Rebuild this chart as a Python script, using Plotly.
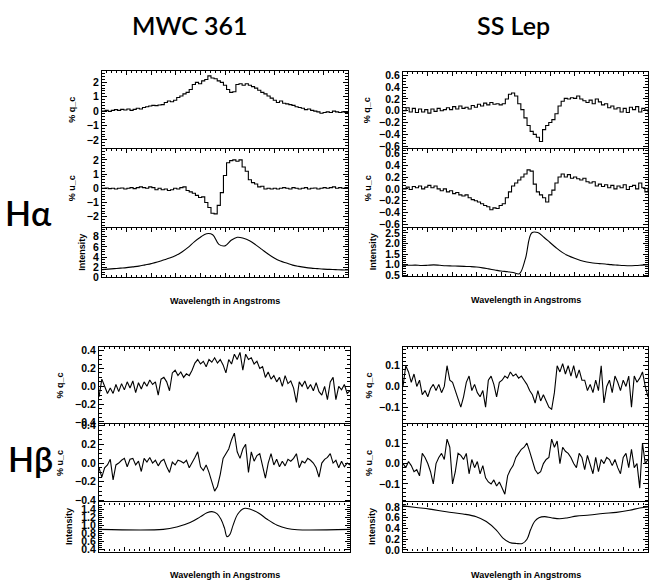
import numpy as np
import plotly.graph_objects as go

# ---------------- data ----------------
HA_RANGE = [6530.0, 6600.0]   # H-alpha window (A)
HB_RANGE = [4830.0, 4890.0]   # H-beta window (A)

MWC_HA_Q = [0.0, 0.05, -0.02, 0.05, 0.1, 0.05, 0.12, 0.08, 0.15, 0.05,
            0.12, 0.2, 0.15, 0.25, 0.3, 0.35, 0.4, 0.38, 0.42, 0.45,
            0.6, 0.7, 0.65, 0.75, 0.95, 1.05, 1.2, 1.3, 1.5, 1.85,
            2.0, 1.9, 2.1, 2.2, 2.45, 2.3, 2.25, 2.1, 2.0, 1.8,
            1.5, 1.3, 1.35, 1.85, 1.9, 1.8, 1.9, 1.8, 1.7, 1.6,
            1.45, 1.3, 1.2, 1.05, 0.9, 0.75, 0.6, 0.7, 0.55, 0.5,
            0.45, 0.4, 0.3, 0.25, 0.2, 0.1, 0.15, 0.05, 0.0, -0.05,
            -0.15, -0.1, -0.05, -0.1, 0.0, -0.05, -0.1, -0.05, -0.1, -0.05]

MWC_HA_U = [0.0, 0.02, -0.02, 0.0, -0.05, 0.0, 0.02, -0.05, 0.0, 0.05,
            -0.02, 0.05, 0.1, 0.05, 0.0, 0.1, 0.05, -0.1, 0.0, -0.1,
            -0.05, -0.15, -0.1, 0.0, -0.05, 0.05, 0.1, -0.15, -0.25, -0.35,
            -0.5, -0.65, -0.6, -1.0, -1.35, -1.75, -1.8, -1.2, -0.3, 0.9,
            1.8, 1.95, 2.0, 1.9, 2.0, 1.5, 1.2, 0.6, 0.4, 0.3,
            0.1, 0.15, -0.05, 0.0, -0.05, 0.0, -0.05, 0.0, 0.05, 0.0,
            -0.05, 0.05, 0.0, -0.05, 0.0, 0.05, -0.05, 0.0, 0.02, -0.05,
            0.0, 0.05, 0.0, 0.05, 0.1, 0.0, 0.05, 0.0, 0.05, 0.0]

MWC_HA_I = [1.5, 1.6, 1.7, 1.8, 1.9, 2.05, 2.2, 2.45, 2.7, 3.0,
            3.4, 3.8, 4.3, 5.0, 5.9, 7.0, 7.9, 8.6, 8.4, 6.5,
            6.2, 7.3, 7.9, 7.7, 7.2, 6.4, 5.5, 4.6, 3.8, 3.2,
            2.8, 2.4, 2.15, 1.95, 1.8, 1.7, 1.6, 1.55, 1.5, 1.45, 1.45]

SSL_HA_Q = [0.0, 0.05, -0.02, 0.04, -0.03, 0.03, -0.02, 0.02, -0.04, 0.03,
            -0.01, 0.04, 0.0, 0.02, 0.05, 0.02, 0.07, 0.03, 0.08, 0.04,
            0.06, 0.03, 0.09, 0.06, 0.11, 0.08, 0.13, 0.1, 0.14, 0.11,
            0.12, 0.1, 0.12, 0.2, 0.28, 0.3, 0.25, 0.12, 0.02, -0.12,
            -0.25, -0.35, -0.4, -0.45, -0.52, -0.32, -0.25, -0.2, -0.15, -0.05,
            0.08, 0.16, 0.21, 0.2, 0.22, 0.21, 0.25, 0.2, 0.17, 0.14,
            0.18, 0.12, 0.2, 0.15, 0.1, 0.12, 0.05, 0.08, 0.03, 0.05,
            -0.02, 0.04, -0.03, 0.06, 0.02, 0.07, -0.02, 0.04, 0.01, -0.03]

SSL_HA_U = [0.0, 0.03, -0.01, 0.04, 0.02, 0.05, 0.0, 0.03, 0.06, 0.02,
            0.05, 0.0, -0.03, 0.0, -0.05, -0.03, -0.08, -0.06, -0.1, -0.12,
            -0.1, -0.15, -0.18, -0.2, -0.22, -0.25, -0.28, -0.3, -0.35, -0.32,
            -0.33, -0.28, -0.25, -0.15, -0.05, 0.05, 0.1, 0.15, 0.2, 0.25,
            0.32, 0.3, 0.08, -0.05, -0.1, -0.15, -0.22, -0.1, -0.02, 0.1,
            0.2, 0.25, 0.2, 0.24, 0.18, 0.2, 0.17, 0.15, 0.18, 0.12,
            0.1, 0.12, 0.05, 0.08, 0.04, 0.07, 0.02, 0.06, 0.0, 0.05,
            0.02, 0.07, -0.01, 0.04, 0.06, 0.0, 0.1, 0.02, -0.05, 0.02]

SSL_HA_I = [0.98, 0.97, 0.98, 0.96, 0.97, 0.99, 0.97, 0.95, 0.94, 0.93,
            0.92, 0.91, 0.89, 0.85, 0.8, 0.75, 0.7, 0.67, 0.63, 0.57,
            1.3, 2.5, 2.52, 2.3, 2.05, 1.8, 1.58, 1.42, 1.3, 1.2,
            1.13, 1.08, 1.05, 1.03, 1.0, 0.98, 0.96, 0.95, 0.96, 0.98, 1.0]

MWC_HB_Q = [-0.12, 0.08, 0.0, -0.08, -0.02, -0.08, 0.02, -0.06, 0.03, -0.04,
            0.05, -0.02, 0.06, -0.07, 0.04, -0.03, 0.05, 0.0, 0.07, 0.02,
            0.05, -0.1, 0.08, 0.1, 0.05, -0.05, 0.15, 0.18, 0.12, 0.16,
            0.1, 0.14, 0.12, 0.18, 0.26, 0.3, 0.25, 0.28, 0.22, 0.3,
            0.27, 0.32, 0.26, 0.3, 0.24, 0.15, 0.3, 0.25, 0.36, 0.3,
            0.38, 0.18, 0.36, 0.3, 0.32, 0.25, 0.28, 0.2, 0.22, 0.1,
            0.16, 0.08, 0.12, 0.05, 0.1, 0.0, 0.12, 0.03, 0.06, -0.02,
            -0.18, 0.05, 0.0, 0.06, -0.03, 0.02, -0.05, 0.04, -0.06, -0.1,
            0.0, -0.15, 0.05, 0.1, -0.15, 0.0, -0.04, 0.02, -0.08, -0.05]

MWC_HB_U = [-0.05, -0.15, -0.05, -0.02, 0.04, -0.18, -0.02, 0.0, 0.03, 0.05,
            -0.04, 0.04, 0.05, -0.02, 0.02, -0.09, 0.05, 0.01, 0.06, 0.0,
            0.03, -0.03, 0.02, 0.04, -0.04, -0.1, 0.01, -0.02, 0.03, 0.02,
            0.0, 0.03, -0.05, 0.0, 0.06, 0.12, -0.04, -0.08, -0.02, -0.1,
            -0.2, -0.3, -0.25, -0.12, 0.05, 0.1, 0.15, 0.25, 0.32, 0.12,
            0.05, 0.15, 0.2, -0.1, 0.12, 0.02, 0.08, 0.1, -0.05, -0.16,
            0.0, 0.1, -0.02, 0.04, -0.04, 0.02, -0.03, 0.04, 0.02, 0.05,
            0.1, -0.05, 0.02, 0.0, 0.05, 0.03, 0.0, -0.05, -0.15, 0.0,
            0.04, 0.06, 0.1, 0.0, 0.03, -0.05, 0.02, -0.04, 0.0, -0.02]

MWC_HB_I_POS = [0.0, 0.256, 0.31, 0.363, 0.403, 0.43, 0.45, 0.47, 0.486, 0.5,
                0.51, 0.521, 0.534, 0.553, 0.577, 0.603, 0.637, 0.67, 0.71, 0.75,
                0.79, 1.0]
MWC_HB_I = [0.9, 0.9, 0.96, 1.07, 1.21, 1.31, 1.34, 1.29, 1.15, 0.93,
            0.72, 0.77, 1.0, 1.28, 1.42, 1.4, 1.3, 1.15, 1.0, 0.92,
            0.89, 0.9]

SSL_HB_Q = [0.0, 0.1, 0.07, 0.02, 0.06, 0.0, 0.03, -0.04, -0.02, -0.05,
            -0.01, 0.01, -0.02, 0.01, -0.03, 0.0, 0.1, 0.03, 0.02, -0.02,
            -0.06, -0.1, -0.05, 0.02, 0.05, -0.02, 0.01, -0.03, -0.05, -0.02,
            -0.1, 0.03, 0.05, 0.01, -0.05, 0.02, 0.03, 0.05, 0.04, 0.07,
            0.05, 0.06, 0.04, 0.05, 0.03, 0.01, -0.02, -0.04, -0.08, -0.02,
            -0.07, -0.04, -0.07, -0.1, -0.11, -0.03, 0.1, 0.07, 0.11, 0.06,
            0.1, 0.05, 0.1, 0.04, 0.08, 0.03, 0.03, -0.02, 0.01, -0.03,
            0.03, -0.02, 0.1, -0.08, 0.0, 0.03, -0.03, 0.05, 0.02, -0.02,
            0.03, 0.0, 0.05, -0.1, 0.05, 0.02, 0.04, 0.07, 0.0, -0.05]

SSL_HB_U = [0.0, -0.02, 0.01, -0.01, -0.04, -0.03, -0.06, 0.05, 0.03, 0.0,
            -0.04, -0.1, 0.0, 0.03, 0.05, 0.02, 0.12, 0.08, -0.1, -0.04,
            0.05, 0.04, 0.02, 0.05, -0.05, 0.02, -0.02, 0.01, -0.05, -0.01,
            -0.07, -0.09, -0.1, -0.08, -0.11, -0.09, -0.12, -0.15, -0.06, -0.03,
            -0.01, 0.03, 0.05, 0.07, 0.08, 0.1, 0.06, 0.02, -0.03, -0.05,
            -0.04, 0.0, 0.02, 0.03, 0.12, 0.08, 0.11, 0.0, 0.08, 0.06,
            0.05, 0.03, 0.0, -0.02, 0.05, 0.03, -0.03, 0.04, 0.0, -0.05,
            0.03, -0.04, 0.02, 0.0, 0.03, 0.02, -0.01, 0.02, -0.02, -0.05,
            0.03, 0.05, -0.02, 0.07, -0.02, 0.0, -0.12, 0.1, 0.0, 0.02]

SSL_HB_I_POS = [0.0, 0.054, 0.109, 0.177, 0.245, 0.299, 0.34, 0.381, 0.408, 0.435,
                0.463, 0.487, 0.506, 0.521, 0.537, 0.555, 0.578, 0.605, 0.639, 0.673,
                0.707, 0.762, 0.816, 0.871, 0.925, 0.966, 1.0]
SSL_HB_I = [0.82, 0.79, 0.76, 0.71, 0.67, 0.62, 0.53, 0.37, 0.22, 0.14,
            0.12, 0.12, 0.2, 0.38, 0.53, 0.6, 0.62, 0.6, 0.58, 0.6,
            0.63, 0.65, 0.68, 0.7, 0.74, 0.78, 0.8]

STAR_NAMES = ["MWC 361", "SS Lep"]
LINE_NAMES = ["Hα", "Hβ"]
Y_TITLES = ["% q_c", "% u_c", "Intensity"]
X_TITLE = "Wavelength in Angstroms"

# ---------------- layout helpers ----------------
W, H = 650, 588


def xd(a, b):
    return [a / W, b / W]


def yd(top, bot):
    return [1 - bot / H, 1 - top / H]


def grid(rng, n):
    return np.linspace(rng[0], rng[1], n)


def knots(rng, pos):
    return rng[0] + (rng[1] - rng[0]) * np.array(pos)


panels = [
    dict(px=(102, 348), rows=(68, 147, 228, 278), wl=HA_RANGE,
         series=[(grid(HA_RANGE, len(MWC_HA_Q)), MWC_HA_Q, "hv"),
                 (grid(HA_RANGE, len(MWC_HA_U)), MWC_HA_U, "hv"),
                 (grid(HA_RANGE, len(MWC_HA_I)), MWC_HA_I, "spline")],
         yr=[[-2.6, 2.8], [-2.8, 2.8], [0.0, 9.7]], dt=[1, 1, 2], mdt=[0.2, 0.2, 0.5],
         fmt=["d", "d", "d"], tx=[72, 72, 82]),
    dict(px=(403, 648), rows=(69, 147, 228, 277), wl=HA_RANGE,
         series=[(grid(HA_RANGE, len(SSL_HA_Q)), SSL_HA_Q, "hv"),
                 (grid(HA_RANGE, len(SSL_HA_U)), SSL_HA_U, "hv"),
                 (grid(HA_RANGE, len(SSL_HA_I)), SSL_HA_I, "spline")],
         yr=[[-0.64, 0.66], [-0.66, 0.68], [0.45, 2.73]], dt=[0.2, 0.2, 0.5],
         mdt=[0.05, 0.05, 0.1], fmt=[".1f", ".1f", ".1f"], tx=[367, 368, 373]),
    dict(px=(99, 350), rows=(349, 427, 507, 557), wl=HB_RANGE,
         series=[(grid(HB_RANGE, len(MWC_HB_Q)), MWC_HB_Q, "linear"),
                 (grid(HB_RANGE, len(MWC_HB_U)), MWC_HB_U, "linear"),
                 (knots(HB_RANGE, MWC_HB_I_POS), MWC_HB_I, "spline")],
         yr=[[-0.42, 0.44], [-0.42, 0.42], [0.35, 1.57]], dt=[0.2, 0.2, 0.2],
         mdt=[0.05, 0.05, 0.05], fmt=[".1f", ".1f", ".1f"], tx=[60, 60, 69]),
    dict(px=(403, 648), rows=(349, 427, 507, 557), wl=HB_RANGE,
         series=[(grid(HB_RANGE, len(SSL_HB_Q)), SSL_HB_Q, "linear"),
                 (grid(HB_RANGE, len(SSL_HB_U)), SSL_HB_U, "linear"),
                 (knots(HB_RANGE, SSL_HB_I_POS), SSL_HB_I, "spline")],
         yr=[[-0.18, 0.19], [-0.19, 0.195], [-0.03, 0.886]], dt=[0.1, 0.1, 0.2],
         mdt=[0.02, 0.02, 0.05], fmt=[".1f", ".1f", ".1f"], tx=[369, 369, 372]),
]

fig = go.Figure()
layout = dict(width=W, height=H, margin=dict(l=0, r=0, t=0, b=0),
              paper_bgcolor="white", plot_bgcolor="white", showlegend=False)
annotations = []
TICKFONT = dict(family="Liberation Sans, Arial, sans-serif", size=10.5, color="black", weight="bold")
SMALLFONT = dict(family="Liberation Sans, Arial, sans-serif", size=9, color="black", weight="bold")

k = 0
for p in panels:
    x0, x1 = p["px"]
    rows = p["rows"]
    for r in range(3):
        k += 1
        xs, ys, shape = p["series"][r]
        xname = "x" if k == 1 else f"x{k}"
        yname = "y" if k == 1 else f"y{k}"
        fig.add_trace(go.Scatter(x=xs, y=ys, mode="lines", xaxis=xname, yaxis=yname,
                                 line=dict(color="black", width=1.1, shape=shape),
                                 hoverinfo="skip"))
        span = p["wl"][1] - p["wl"][0]
        bottom_row = (r == 2)
        layout["xaxis" if k == 1 else f"xaxis{k}"] = dict(
            domain=xd(x0, x1), range=p["wl"], anchor=yname,
            side="bottom" if bottom_row else "top",
            showline=True, linecolor="black", linewidth=1.3,
            mirror="ticks" if bottom_row else False,
            ticks="inside", ticklen=4, tickcolor="black", tickwidth=1,
            dtick=span / 10, tick0=p["wl"][0],
            showticklabels=False, showgrid=False, zeroline=False,
            minor=dict(ticks="inside", ticklen=2, tickcolor="black",
                       dtick=span / 50, tick0=p["wl"][0], showgrid=False))
        layout["yaxis" if k == 1 else f"yaxis{k}"] = dict(
            domain=yd(rows[r], rows[r + 1]), range=p["yr"][r], anchor=xname,
            showline=True, linecolor="black", linewidth=1.3, mirror="ticks",
            ticks="inside", ticklen=5, tickcolor="black", tickwidth=1,
            dtick=p["dt"][r], tick0=0, tickformat=p["fmt"][r],
            tickfont=TICKFONT, showgrid=False, zeroline=False,
            minor=dict(ticks="inside", ticklen=2.5, tickcolor="black",
                       dtick=p["mdt"][r], tick0=0, showgrid=False))
        annotations.append(dict(text=Y_TITLES[r], xref="paper", yref="paper",
                                x=p["tx"][r] / W, y=1 - (rows[r] + rows[r + 1]) / 2 / H,
                                textangle=-90, showarrow=False, font=SMALLFONT,
                                xanchor="center", yanchor="middle"))
    annotations.append(dict(text=X_TITLE, xref="paper", yref="paper",
                            x=(x0 + x1) / 2 / W, y=1 - (rows[3] + 24) / H,
                            showarrow=False, font=SMALLFONT, xanchor="center", yanchor="middle"))

TITLEFONT = dict(family="Lato, Open Sans, sans-serif", size=25, color="black", weight=600)
annotations.append(dict(text=STAR_NAMES[0], xref="paper", yref="paper", x=190 / W, y=1 - 21 / H,
                        showarrow=False, font=TITLEFONT, xanchor="center", yanchor="middle"))
annotations.append(dict(text=STAR_NAMES[1], xref="paper", yref="paper", x=513 / W, y=1 - 21 / H,
                        showarrow=False, font=TITLEFONT, xanchor="center", yanchor="middle"))
LINEFONT = dict(family="Lato, Open Sans, sans-serif", size=34, color="black", weight=600)
annotations.append(dict(text=LINE_NAMES[0], xref="paper", yref="paper", x=28 / W, y=1 - 212 / H,
                        showarrow=False, font=LINEFONT, xanchor="center", yanchor="middle"))
annotations.append(dict(text=LINE_NAMES[1], xref="paper", yref="paper", x=30 / W, y=1 - 462 / H,
                        showarrow=False, font=LINEFONT, xanchor="center", yanchor="middle"))

layout["annotations"] = annotations
fig.update_layout(**layout)
fig.write_html("out.html")
